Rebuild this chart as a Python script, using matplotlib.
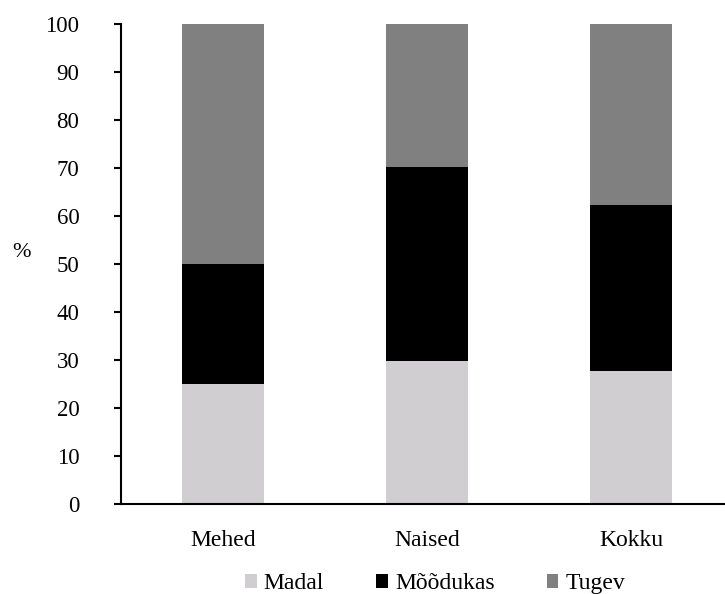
import numpy as np
import matplotlib
matplotlib.use('Agg')
import matplotlib.pyplot as plt
from matplotlib.patches import Patch

plt.rcParams['font.family'] = ['Liberation Serif', 'DejaVu Serif']

# andmed (%)
groups = ['Mehed', 'Naised', 'Kokku']
levels = ['Madal', 'Mõõdukas', 'Tugev']
madal = [25.0, 29.8, 27.8]
moodukas = [25.0, 40.5, 34.6]
tugev = [50.0, 29.7, 37.6]
colors = ['#d0ced0', '#000000', '#808080']

fig = plt.figure(figsize=(7.25, 5.94), dpi=100)
ax = fig.add_axes([0.167, 0.1515, 0.844, 0.808])

x = np.arange(len(groups))
bottom = np.zeros(len(groups))
for vals, c in zip([madal, moodukas, tugev], colors):
    ax.bar(x, vals, width=0.40, bottom=bottom, color=c, edgecolor='none')
    bottom += np.array(vals)

ax.set_xlim(-0.5, 2.5)
ax.set_ylim(0, 100)
ax.set_yticks(np.arange(0, 101, 10))
ax.set_xticks(x)
ax.set_xticklabels(groups)

for s in ['top', 'right']:
    ax.spines[s].set_visible(False)
ax.spines['left'].set_linewidth(1.5)
ax.spines['bottom'].set_linewidth(1.5)

ax.tick_params(axis='y', length=5, width=1.5, pad=25, labelsize=16.5)
ax.tick_params(axis='x', length=0, pad=19, labelsize=17)

ax.set_ylabel('%', rotation=0, fontsize=16, ha='center', va='center')
ax.yaxis.set_label_coords(-0.162, 0.523)

handles = [Patch(facecolor=c, edgecolor='none') for c in colors]
fig.legend(handles, levels, loc='center', bbox_to_anchor=(0.6, 0.017),
           ncol=3, frameon=False, fontsize=17, handlelength=0.5,
           handleheight=0.5, handletextpad=0.3, columnspacing=2.2)

plt.savefig('out.png', dpi=100)
